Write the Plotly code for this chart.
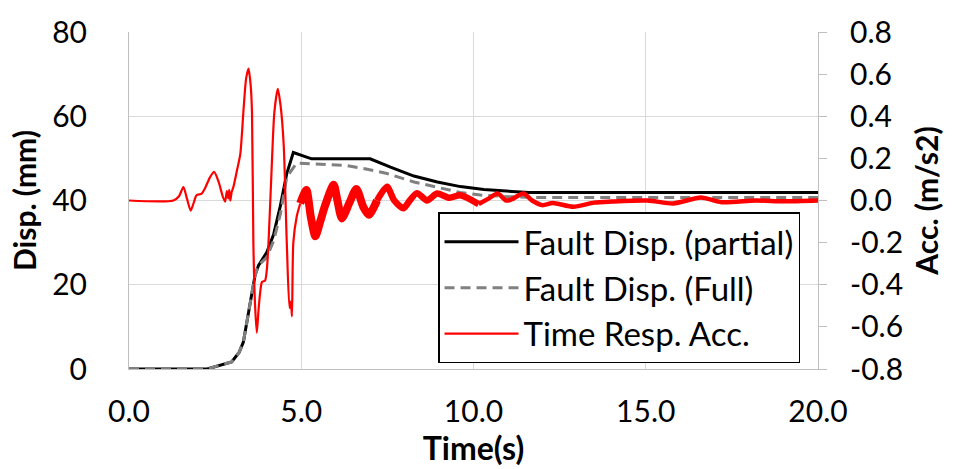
import plotly.graph_objects as go

# ---- data ----
t_partial = [0, 2.27, 2.98, 3.2, 3.32, 3.52, 3.66, 3.76, 4.0, 4.2, 4.39, 4.58, 4.77,
             5.3, 7.0, 7.59, 8.27, 8.95, 9.62, 10.3, 11.0, 11.6, 20.0]
disp_partial = [0, 0, 1.7, 4.0, 6.4, 15.4, 22.3, 24.6, 27.7, 32.0, 38.6, 46.4, 51.4,
                49.9, 49.9, 47.9, 45.8, 44.4, 43.3, 42.6, 42.2, 41.9, 41.9]

t_full = [0, 2.27, 2.98, 3.2, 3.32, 3.52, 3.66, 3.76, 4.0, 4.2, 4.4, 4.58, 4.87,
          5.36, 6.33, 6.81, 7.49, 8.27, 8.85, 9.62, 10.2, 11.0, 12.0, 20.0]
disp_full = [0, 0, 1.7, 4.0, 6.4, 15.4, 22.3, 24.6, 26.5, 30.5, 37.0, 45.6, 48.9,
             48.7, 48.3, 47.6, 46.4, 44.4, 43.3, 41.9, 41.3, 40.9, 40.7, 40.7]

t_acc = [0.0, 1.29, 1.45, 1.58, 1.68, 1.79, 1.88, 1.96, 2.11, 2.2, 2.35, 2.47, 2.6,
         2.72, 2.79, 2.84, 2.88, 2.91, 2.94, 2.98, 3.03, 3.13, 3.23, 3.32, 3.40,
         3.47, 3.53, 3.57, 3.61, 3.66, 3.71, 3.76, 3.81, 3.86, 3.95, 4.00, 4.05,
         4.15, 4.22, 4.32, 4.40, 4.49, 4.58, 4.66, 4.70, 4.73, 4.77, 4.87, 4.97,
         5.05, 5.15, 5.28, 5.41, 5.55, 5.7, 5.94, 6.05, 6.18, 6.4, 6.6, 6.8, 6.96,
         7.2, 7.49, 7.7, 7.97, 8.15, 8.36, 8.65, 8.94, 9.3, 9.62, 10.15, 10.45,
         10.7, 10.95, 11.1, 11.45, 11.7, 12.0, 12.3, 12.9, 13.5, 14.0, 15.05, 15.8,
         16.6, 17.2, 18.2, 19.0, 20.0]
acc = [0, 0, 0.02, 0.064, 0.01, -0.048, -0.01, 0.025, 0.033, 0.056, 0.11, 0.136, 0.09,
       0.02, -0.006, 0.045, 0.01, 0.05, 0.0, 0.04, 0.064, 0.14, 0.22, 0.42, 0.58,
       0.626, 0.55, 0.42, -0.2, -0.5, -0.628, -0.52, -0.434, -0.387, -0.38, -0.33, -0.2,
       0.19, 0.42, 0.53, 0.45, 0.266, -0.2, -0.51, -0.48, -0.55, -0.2, -0.075, -0.014,
       0.02, 0.05, -0.08, -0.17, -0.1, -0.02, 0.075, 0.0, -0.085, -0.01, 0.055, -0.03, -0.068,
       0.0, 0.065, 0.0, -0.037, 0.0, 0.035, 0.0, 0.033, 0.013, 0.025, -0.017, 0.01,
       0.033, 0.0, 0.005, 0.033, 0.0, -0.022, -0.012, -0.03, -0.01, -0.005, 0.0, -0.014,
       0.014, -0.008, 0.0, -0.004, 0.0]

x_ticks = [0, 5, 10, 15, 20]
x_ticktext = ["0.0", "5.0", "10.0", "15.0", "20.0"]
y_ticks = [0, 20, 40, 60, 80]
y2_ticks = [-0.8, -0.6, -0.4, -0.2, 0.0, 0.2, 0.4, 0.6, 0.8]
y2_ticktext = ["-0.8", "-0.6", "-0.4", "-0.2", "0.0", "0.2", "0.4", "0.6", "0.8"]

FONT = "Lato"
GRID = "#d9d9d9"
AXIS = "#bfbfbf"

fig = go.Figure()
fig.add_trace(go.Scatter(x=t_partial, y=disp_partial, mode="lines",
                         name="Fault Disp. (partial)",
                         line=dict(color="#000000", width=3)))
fig.add_trace(go.Scatter(x=t_full, y=disp_full, mode="lines",
                         name="Fault Disp. (Full)",
                         line=dict(color="#808080", width=3, dash="10px,6px")))

# acceleration drawn in pieces (sharing end points): thin early part, thicker
# band where the dense oscillation is
bounds = [0.0, 4.97, 7.2, 10.15, 20.0]
widths = [2.2, 8, 6.5, 4.5]
for k in range(len(widths)):
    i0 = t_acc.index(bounds[k])
    i1 = t_acc.index(bounds[k + 1])
    fig.add_trace(go.Scatter(x=t_acc[i0:i1 + 1], y=acc[i0:i1 + 1], mode="lines",
                             yaxis="y2", name="Time Resp. Acc.",
                             legendgroup="acc", showlegend=(k == 0),
                             line=dict(color="#ff0000", width=widths[k],
                                       shape="spline", smoothing=0.7)))

fig.update_layout(
    width=961, height=469,
    margin=dict(l=129, r=143, t=26, b=100),
    plot_bgcolor="white", paper_bgcolor="white",
    font=dict(family=FONT, size=30, color="#000000"),
    showlegend=True,
    legend=dict(x=0.4485, y=0.465, xanchor="left", yanchor="top",
                bgcolor="white", bordercolor="#000000", borderwidth=1.5,
                font=dict(family=FONT, size=33), tracegroupgap=0,
                itemwidth=74, traceorder="normal"),
    xaxis=dict(range=[0, 20], tickvals=x_ticks, ticktext=x_ticktext,
               showgrid=True, gridcolor=GRID, gridwidth=1,
               showline=True, linecolor=AXIS, linewidth=1, zeroline=False,
               ticks="", ticklabelstandoff=16,
               title=dict(text="<b>Time(s)</b>", standoff=6,
                          font=dict(family=FONT, size=32))),
    yaxis=dict(range=[0, 80], tickvals=y_ticks,
               showgrid=True, gridcolor=GRID, gridwidth=1,
               showline=True, linecolor=AXIS, linewidth=1, zeroline=False,
               ticks="", ticklabelstandoff=35,
               title=dict(text="<b>Disp. (mm)</b>", standoff=6,
                          font=dict(family=FONT, size=30))),
    yaxis2=dict(range=[-0.8, 0.8], tickvals=y2_ticks, ticktext=y2_ticktext,
                overlaying="y", side="right", showgrid=False,
                showline=True, linecolor=AXIS, linewidth=1, zeroline=False,
                ticks="outside", ticklen=8, tickcolor=AXIS,
                ticklabelstandoff=17,
                title=dict(text="<b>Acc. (m/s2)</b>", standoff=14,
                           font=dict(family=FONT, size=30))),
)

fig.write_html("out.html")
